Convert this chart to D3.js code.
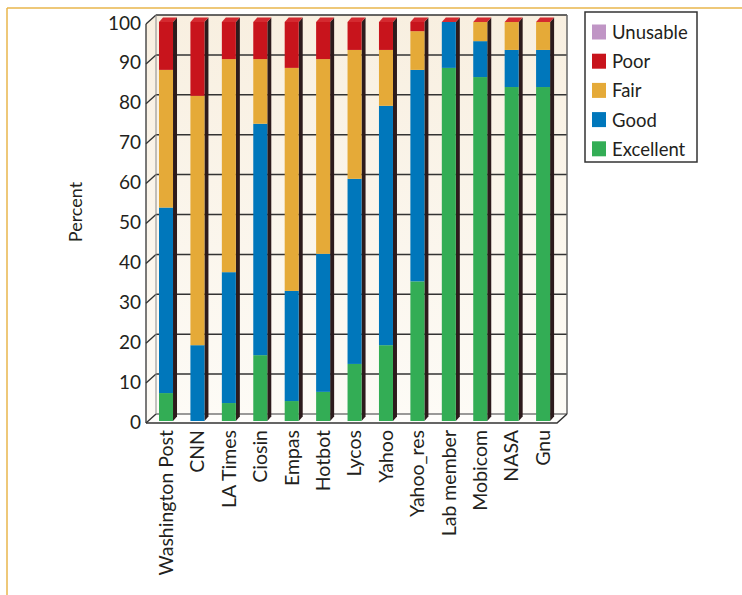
<!DOCTYPE html>
<html>
<head>
<meta charset="utf-8">
<script src="https://cdn.jsdelivr.net/npm/d3@7"></script>
<style>
  body { margin: 0; background: #fff; }
  text { font-family: Lato, "Open Sans", sans-serif; fill: #231f20; }
</style>
</head>
<body>
<div id="viz-1"></div>
<script>
const containerId = 'viz-1';

// données
const sites = ["Washington Post", "CNN", "LA Times", "Ciosin", "Empas", "Hotbot",
  "Lycos", "Yahoo", "Yahoo_res", "Lab member", "Mobicom", "NASA", "Gnu"];
const excellent = [7, 0, 4.5, 16.5, 5, 7.3, 14.3, 19, 35, 88.5, 86.2, 83.7, 83.7];
const good      = [46.5, 19, 32.8, 58, 27.6, 34.6, 46.4, 60, 53, 11.5, 9, 9.3, 9.3];
const fair      = [34.5, 62.5, 53.4, 16.2, 55.9, 48.8, 32.3, 14, 9.7, 0, 4.8, 7, 7];
const poor      = [12, 18.5, 9.3, 9.3, 11.5, 9.3, 7, 7, 2.3, 0, 0, 0, 0];
const unusable  = [0, 0, 0, 0, 0, 0, 0, 0, 0, 0, 0, 0, 0];

const seriesNames = ["Excellent", "Good", "Fair", "Poor", "Unusable"];
const seriesColors = ["#33ad55", "#0077bb", "#e5aa38", "#c8141c", "#c095c5"];
const yTicks = [0, 10, 20, 30, 40, 50, 60, 70, 80, 90, 100];

function main() {
  const width = 742, height = 595;

  const svg = d3.select("#" + containerId).append("svg")
    .attr("width", width)
    .attr("height", height);

  // cadre orange
  svg.append("line").attr("x1", 7).attr("x2", width).attr("y1", 8).attr("y2", 8)
    .attr("stroke", "#e8b64c").attr("stroke-width", 1.5);
  svg.append("line").attr("x1", 7).attr("x2", 7).attr("y1", 8).attr("y2", height)
    .attr("stroke", "#e8b64c").attr("stroke-width", 1.5);

  // géométrie 3D
  const back = { left: 156, right: 567, top: 15, bottom: 414 };
  const dx = -10, dy = 9; // décalage du plan avant

  const yBack = d3.scaleLinear().domain([0, 100]).range([back.bottom, back.top]);
  const yFront = d3.scaleLinear().domain([0, 100]).range([421, 22]);

  const x = d3.scaleBand()
    .domain(sites)
    .range([150.3, 558.8])
    .paddingInner(0.554)
    .paddingOuter(0.277);
  const bw = x.bandwidth();

  const defs = svg.append("defs");
  const grad = defs.append("linearGradient").attr("id", "wall")
    .attr("x1", 0).attr("y1", 0).attr("x2", 0).attr("y2", 1);
  grad.append("stop").attr("offset", "0%").attr("stop-color", "#f8efe0");
  grad.append("stop").attr("offset", "100%").attr("stop-color", "#fdfbf6");

  // mur du fond
  svg.append("rect")
    .attr("x", back.left).attr("y", back.top)
    .attr("width", back.right - back.left).attr("height", back.bottom - back.top)
    .attr("fill", "url(#wall)");

  // mur gauche
  svg.append("polygon")
    .attr("points", [
      [back.left + dx, back.top + dy], [back.left, back.top],
      [back.left, back.bottom], [back.left + dx, back.bottom + dy]
    ].join(" "))
    .attr("fill", "url(#wall)");

  // sol
  svg.append("polygon")
    .attr("points", [
      [back.left + dx, back.bottom + dy], [back.left, back.bottom],
      [back.right, back.bottom], [back.right + dx, back.bottom + dy]
    ].join(" "))
    .attr("fill", "#fefdfb");

  // quadrillage
  const grid = svg.append("g");
  yTicks.forEach(t => {
    const yb = yBack(t);
    grid.append("line")
      .attr("x1", back.left).attr("x2", back.right)
      .attr("y1", yb).attr("y2", yb)
      .attr("stroke", t === 0 ? "#777" : "#333").attr("stroke-width", 1.5);
    grid.append("line")
      .attr("x1", back.left + dx).attr("x2", back.left)
      .attr("y1", yb + dy).attr("y2", yb)
      .attr("stroke", "#333").attr("stroke-width", 1.4);
  });

  // bords
  svg.append("line").attr("x1", back.left + dx).attr("x2", back.left + dx)
    .attr("y1", back.top + dy).attr("y2", back.bottom + dy)
    .attr("stroke", "#333").attr("stroke-width", 1.3);
  svg.append("line").attr("x1", back.left).attr("x2", back.left)
    .attr("y1", back.top).attr("y2", back.bottom)
    .attr("stroke", "#888").attr("stroke-width", 1);
  svg.append("line").attr("x1", back.right).attr("x2", back.right)
    .attr("y1", back.top).attr("y2", back.bottom)
    .attr("stroke", "#666").attr("stroke-width", 1.5);
  svg.append("polyline")
    .attr("points", [
      [back.left + dx, back.bottom + dy], [back.right + dx, back.bottom + dy],
      [back.right, back.bottom]
    ].join(" "))
    .attr("fill", "none").attr("stroke", "#333").attr("stroke-width", 1.5);

  // barres empilées
  const table = sites.map((s, i) => ({
    site: s,
    Excellent: excellent[i], Good: good[i], Fair: fair[i],
    Poor: poor[i], Unusable: unusable[i]
  }));
  const stacked = d3.stack().keys(seriesNames)(table);

  const depthX = 4, depthY = 4.5;
  const bars = svg.append("g");

  // face latérale sombre
  bars.selectAll("polygon.side")
    .data(table)
    .join("polygon")
    .attr("class", "side")
    .attr("points", d => {
      const x1 = x(d.site) + bw;
      const yb = yFront(0), yt = yFront(100);
      return [[x1, yb], [x1 + depthX, yb - depthY], [x1 + depthX, yt - depthY], [x1, yt]].join(" ");
    })
    .attr("fill", "#2d1b1c");

  // face du dessus
  bars.selectAll("polygon.top")
    .data(table)
    .join("polygon")
    .attr("class", "top")
    .attr("points", d => {
      const x0 = x(d.site), x1 = x0 + bw, yt = yFront(100);
      return [[x0, yt], [x0 + depthX, yt - depthY], [x1 + depthX, yt - depthY], [x1, yt]].join(" ");
    })
    .attr("fill", "#d42a30");

  stacked.forEach((layer, k) => {
    bars.append("g")
      .attr("fill", seriesColors[k])
      .selectAll("rect")
      .data(layer)
      .join("rect")
      .attr("x", d => x(d.data.site))
      .attr("y", d => yFront(d[1]))
      .attr("width", bw)
      .attr("height", d => yFront(d[0]) - yFront(d[1]));
  });

  // axe Y
  const yAxis = d3.axisLeft(yFront).tickValues(yTicks).tickSize(0).tickPadding(0);
  svg.append("g")
    .attr("transform", "translate(141,1)")
    .call(yAxis)
    .call(g => g.select(".domain").remove())
    .selectAll("text")
    .style("font-family", "Lato, sans-serif")
    .style("font-size", "19px")
    .attr("fill", "#231f20");

  // axe X
  const xAxis = d3.axisBottom(x).tickSize(0);
  svg.append("g")
    .attr("transform", `translate(0,${back.bottom + dy})`)
    .call(xAxis)
    .call(g => g.select(".domain").remove())
    .selectAll("text")
    .attr("x", -7).attr("y", 0).attr("dy", "0.35em")
    .attr("transform", "rotate(-90)")
    .style("text-anchor", "end")
    .style("font-family", "Lato, sans-serif")
    .style("font-size", "19.5px")
    .attr("fill", "#231f20");

  // titre axe Y
  svg.append("text")
    .attr("transform", "translate(75,212) rotate(-90)")
    .attr("text-anchor", "middle")
    .attr("dominant-baseline", "central")
    .style("font-size", "18px")
    .text("Percent");

  // légende
  const legend = svg.append("g");
  legend.append("rect")
    .attr("x", 585).attr("y", 12).attr("width", 112).attr("height", 150)
    .attr("fill", "#fff").attr("stroke", "#333").attr("stroke-width", 1.5);
  const order = seriesNames.slice().reverse();
  const colors = seriesColors.slice().reverse();
  order.forEach((name, i) => {
    const cy = 32 + i * 29.2;
    legend.append("rect")
      .attr("x", 592).attr("y", cy - 7.5).attr("width", 14).attr("height", 15)
      .attr("fill", colors[i]);
    legend.append("text")
      .attr("x", 612).attr("y", cy)
      .attr("dominant-baseline", "central")
      .style("font-size", "18.5px")
      .text(name);
  });
}

main();
</script>
</body>
</html>
